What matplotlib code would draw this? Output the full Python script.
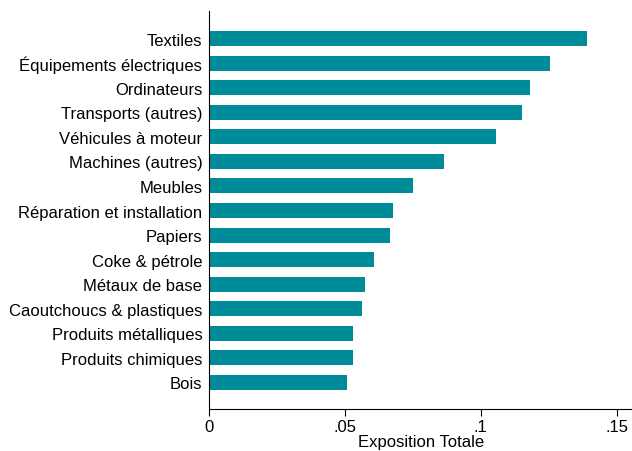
import matplotlib.pyplot as plt
import numpy as np

plt.rcParams['font.family'] = ['Liberation Sans', 'DejaVu Sans']

# secteurs (du haut vers le bas)
secteurs = ['Textiles', 'Équipements électriques', 'Ordinateurs', 'Transports (autres)',
            'Véhicules à moteur', 'Machines (autres)', 'Meubles', 'Réparation et installation',
            'Papiers', 'Coke & pétrole', 'Métaux de base', 'Caoutchoucs & plastiques',
            'Produits métalliques', 'Produits chimiques', 'Bois']
exposition = [0.139, 0.1254, 0.118, 0.115, 0.1056, 0.0866, 0.0752, 0.0678,
              0.0664, 0.0608, 0.0575, 0.0561, 0.0530, 0.0528, 0.0507]
xticks = [0, 0.05, 0.1, 0.15]
xtick_labels = ['0', '.05', '.1', '.15']

fig = plt.figure(figsize=(6.32, 4.52), dpi=100)
ax = fig.add_axes([0.3312, 0.0929, 0.6688, 0.8805])

pos = np.arange(len(secteurs))[::-1]
ax.barh(pos, exposition, height=0.61, color='#008b99')

ax.set_yticks(pos)
ax.set_yticklabels(secteurs, fontsize=12)
ax.tick_params(axis='y', length=0, pad=5)
ax.set_xticks(xticks)
ax.set_xticklabels(xtick_labels, fontsize=12)
ax.tick_params(axis='x', length=5, width=0.8, direction='out', pad=2)
ax.set_xlim(0, 0.1557)
ax.set_ylim(-1.08, 15.12)
ax.set_xlabel('Exposition Totale', fontsize=12, labelpad=0)

ax.spines['top'].set_visible(False)
ax.spines['right'].set_visible(False)

fig.savefig('out.png', dpi=100)
